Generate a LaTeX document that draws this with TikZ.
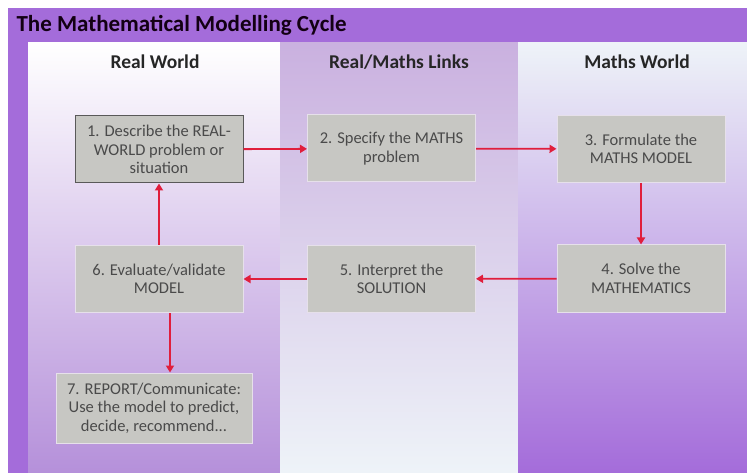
\documentclass[tikz,border=0pt]{standalone}
\usepackage{fontspec}
\setmainfont{Carlito}
\usepackage{xcolor}
\usetikzlibrary{arrows.meta, positioning}

\definecolor{frame}{HTML}{A46CDA}
\definecolor{lilac}{HTML}{C4A8DC}
\definecolor{deeplilac}{HTML}{B590DA}
\definecolor{paleblue}{HTML}{EEF3F8}
\definecolor{boxgray}{HTML}{C7C7C3}
\definecolor{boxline}{HTML}{E6E0EA}
\definecolor{linkred}{HTML}{E01E3C}
\definecolor{inkgray}{HTML}{4A4A4A}

\begin{document}
\begin{tikzpicture}[
    x=1pt, y=-1pt,
    step box/.style={draw=boxline, line width=1pt, fill=boxgray, minimum width=168pt, minimum height=67pt,
        align=center, text=inkgray, font=\fontsize{16.5}{18.5}\selectfont},
    heading/.style={font=\fontsize{19.5}{22}\selectfont\bfseries, text=black!85},
    arrow/.style={-{Triangle[length=7pt, width=8pt]}, line width=1.8pt, linkred}
]
    \useasboundingbox (0,0) rectangle (747,473);

    % === Frame and title bar ===
    \fill[white] (0,0) rectangle (747,473);
    \fill[frame] (8,8) rectangle (747,473);
    \node[font=\fontsize{23}{26}\selectfont\bfseries, text=black!85!violet, anchor=west] (title) at (13,25)
        {The Mathematical Modelling Cycle};

    % === Three columns ===
    \shade[top color=white, middle color=lilac, bottom color=deeplilac] (28,43) rectangle (280,473);
    \shade[top color=lilac!90, middle color=deeplilac!90!black, bottom color=paleblue] (280,43) rectangle (518,473);
    \shade[shading angle=35, top color=paleblue, middle color=paleblue!45!lilac, bottom color=frame]
        (518,43) rectangle (747,473);

    \node[heading] (realhd) at (155,62) {Real World};
    \node[heading] (linkhd) at (399,62) {Real/Maths Links};
    \node[heading] (mathhd) at (637,62) {Maths World};

    % === Steps of the cycle ===
    \node[step box, draw=black!65] (one) at (159,149.5) {1. Describe the REAL-\\WORLD problem or\\situation};
    \node[step box] (two) at (391.5,148.5) {2. Specify the MATHS\\problem};
    \node[step box] (three) at (641,149) {3. Formulate the\\MATHS MODEL};
    \node[step box] (four) at (641,278.5) {4. Solve the\\MATHEMATICS};
    \node[step box] (five) at (391.5,279) {5. Interpret the\\SOLUTION};
    \node[step box] (six) at (159,279) {6. Evaluate/validate\\MODEL};
    \node[step box, minimum width=196pt, minimum height=70pt] (seven) at (154,408)
        {7. REPORT/Communicate:\\Use the model to predict,\\decide, recommend...};

    % === Connectors ===
    \draw[arrow] (one) -- (two);
    \draw[arrow] (two) -- (three);
    \draw[arrow] (three) -- (four);
    \draw[arrow] (four) -- (five);
    \draw[arrow] (five) -- (six);
    \draw[arrow] (six) -- (one);
    \draw[arrow] ([xshift=11pt]six.south) -- ([xshift=11pt]six.south |- seven.north);
\end{tikzpicture}
\end{document}
